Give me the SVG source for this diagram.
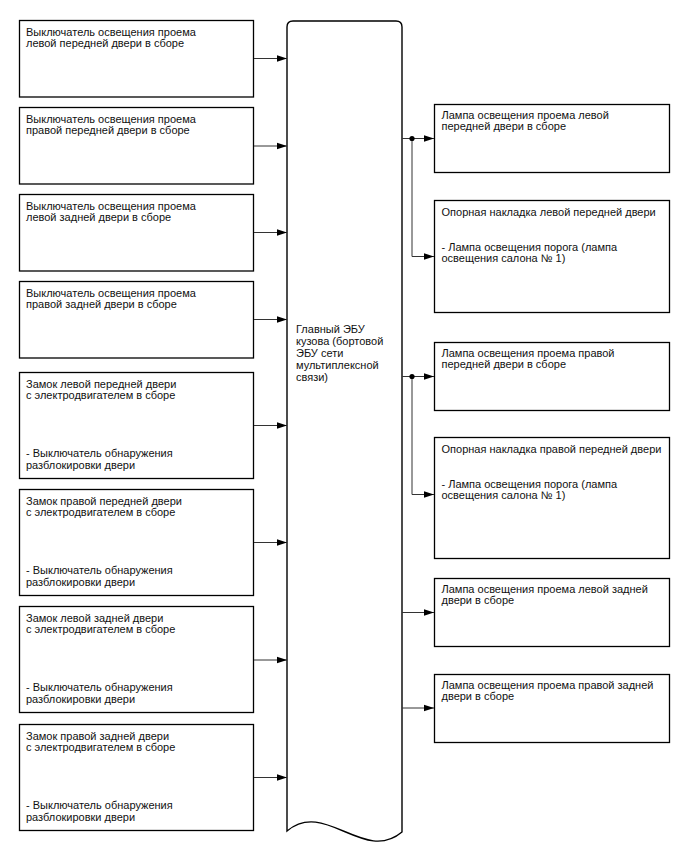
<svg xmlns="http://www.w3.org/2000/svg" width="688" height="852" viewBox="0 0 688 852">
<defs>
<marker id="ah" markerWidth="10" markerHeight="8" refX="10" refY="4" orient="auto" markerUnits="userSpaceOnUse">
<path d="M0,0.8 L10,4 L0,7.2 Z" fill="#000"/>
</marker>
<style>
.box{fill:#fff;stroke:#000;stroke-width:1.3}
.ecu{fill:#fff;stroke:#000;stroke-width:1.4}
.t{font-family:"Liberation Sans",Arial,sans-serif;font-size:11px;fill:#111}
.c{fill:none;stroke:#333;stroke-width:1;marker-end:url(#ah)}
.l{fill:none;stroke:#333;stroke-width:1}
</style>
</defs>
<rect width="688" height="852" fill="#fff"/>

<g id="ecu">
<path class="ecu" d="M287,831 V27 Q287,21 293,21 H396 Q402,21 402,27 V832 C364,864 325,799 287,831 Z"/>
<text class="t" x="296"><tspan x="296" y="332.5">Главный ЭБУ</tspan><tspan x="296" y="344.5">кузова (бортовой</tspan><tspan x="296" y="356.5">ЭБУ сети</tspan><tspan x="296" y="368.5">мультиплексной</tspan><tspan x="296" y="380.5">связи)</tspan></text>
</g>

<g id="l1"><rect class="box" x="19.5" y="20.5" width="234" height="76.5"/>
<text class="t"><tspan x="26" y="35.5">Выключатель освещения проема</tspan><tspan x="26" y="47.2">левой передней двери в сборе</tspan></text></g>
<g id="l2"><rect class="box" x="19.5" y="107.5" width="234" height="76.5"/>
<text class="t"><tspan x="26" y="122.5">Выключатель освещения проема</tspan><tspan x="26" y="134.2">правой передней двери в сборе</tspan></text></g>
<g id="l3"><rect class="box" x="19.5" y="194.5" width="234" height="76.5"/>
<text class="t"><tspan x="26" y="209.5">Выключатель освещения проема</tspan><tspan x="26" y="221.2">левой задней двери в сборе</tspan></text></g>
<g id="l4"><rect class="box" x="19.5" y="281.5" width="234" height="76.5"/>
<text class="t"><tspan x="26" y="296.5">Выключатель освещения проема</tspan><tspan x="26" y="308.2">правой задней двери в сборе</tspan></text></g>

<g id="l5"><rect class="box" x="19.5" y="372.5" width="234" height="106"/>
<text class="t"><tspan x="26" y="387.5">Замок левой передней двери</tspan><tspan x="26" y="399.2">с электродвигателем в сборе</tspan><tspan x="26" y="457">- Выключатель обнаружения</tspan><tspan x="26" y="468.7">разблокировки двери</tspan></text></g>
<g id="l6"><rect class="box" x="19.5" y="489.5" width="234" height="106"/>
<text class="t"><tspan x="26" y="504.5">Замок правой передней двери</tspan><tspan x="26" y="516.2">с электродвигателем в сборе</tspan><tspan x="26" y="574">- Выключатель обнаружения</tspan><tspan x="26" y="585.7">разблокировки двери</tspan></text></g>
<g id="l7"><rect class="box" x="19.5" y="606.5" width="234" height="106"/>
<text class="t"><tspan x="26" y="621.5">Замок левой задней двери</tspan><tspan x="26" y="633.2">с электродвигателем в сборе</tspan><tspan x="26" y="691">- Выключатель обнаружения</tspan><tspan x="26" y="702.7">разблокировки двери</tspan></text></g>
<g id="l8"><rect class="box" x="19.5" y="724.5" width="234" height="106"/>
<text class="t"><tspan x="26" y="739.5">Замок правой задней двери</tspan><tspan x="26" y="751.2">с электродвигателем в сборе</tspan><tspan x="26" y="809">- Выключатель обнаружения</tspan><tspan x="26" y="820.7">разблокировки двери</tspan></text></g>

<g id="r1"><rect class="box" x="434.5" y="104.5" width="235" height="68"/>
<text class="t"><tspan x="441.5" y="118.5">Лампа освещения проема левой</tspan><tspan x="441.5" y="130.2">передней двери в сборе</tspan></text></g>
<g id="r2"><rect class="box" x="434.5" y="200.5" width="235" height="112"/>
<text class="t"><tspan x="441.5" y="215.5">Опорная накладка левой передней двери</tspan><tspan x="441.5" y="250.5">- Лампа освещения порога (лампа</tspan><tspan x="441.5" y="262.2">освещения салона № 1)</tspan></text></g>
<g id="r3"><rect class="box" x="434.5" y="342.5" width="235" height="68"/>
<text class="t"><tspan x="441.5" y="356.5">Лампа освещения проема правой</tspan><tspan x="441.5" y="368.2">передней двери в сборе</tspan></text></g>
<g id="r4"><rect class="box" x="434.5" y="437.5" width="235" height="121"/>
<text class="t"><tspan x="441.5" y="452.5">Опорная накладка правой передней двери</tspan><tspan x="441.5" y="487.5">- Лампа освещения порога (лампа</tspan><tspan x="441.5" y="499.2">освещения салона № 1)</tspan></text></g>
<g id="r5"><rect class="box" x="434.5" y="578.5" width="235" height="68"/>
<text class="t"><tspan x="441.5" y="592.5">Лампа освещения проема левой задней</tspan><tspan x="441.5" y="604.2">двери в сборе</tspan></text></g>
<g id="r6"><rect class="box" x="434.5" y="674.5" width="235" height="68"/>
<text class="t"><tspan x="441.5" y="688.5">Лампа освещения проема правой задней</tspan><tspan x="441.5" y="700.2">двери в сборе</tspan></text></g>

<g id="connectors">
<path class="c" d="M254,58.5 H287"/>
<path class="c" d="M254,146 H287"/>
<path class="c" d="M254,232.5 H287"/>
<path class="c" d="M254,319.5 H287"/>
<path class="c" d="M254,425.5 H287"/>
<path class="c" d="M254,542.5 H287"/>
<path class="c" d="M254,660 H287"/>
<path class="c" d="M254,777.5 H287"/>
<path class="c" d="M402,138.5 H434"/>
<path class="c" d="M412,138.5 V256.5 H434"/>
<circle cx="412" cy="138.5" r="2.6" fill="#000"/>
<path class="c" d="M402,376.5 H434"/>
<path class="c" d="M412,376.5 V494.5 H434"/>
<circle cx="412" cy="376.5" r="2.6" fill="#000"/>
<path class="c" d="M402,612.5 H434"/>
<path class="c" d="M402,708 H434"/>
</g>
</svg>
